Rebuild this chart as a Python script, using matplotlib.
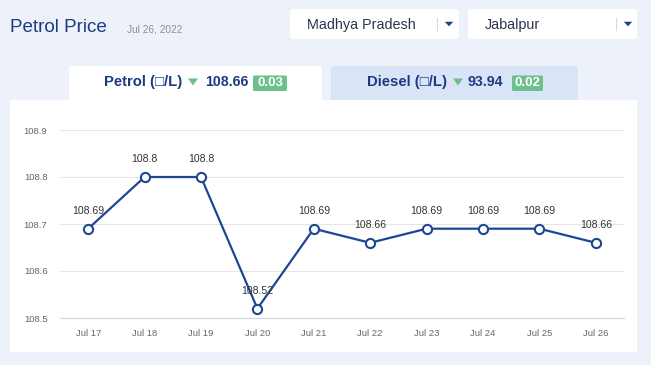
import matplotlib
matplotlib.use("Agg")
import matplotlib.pyplot as plt
from matplotlib.patches import FancyBboxPatch, Rectangle, Polygon

# ---- data ----
dates = ["Jul 17", "Jul 18", "Jul 19", "Jul 20", "Jul 21", "Jul 22", "Jul 23", "Jul 24", "Jul 25", "Jul 26"]
prices = [108.69, 108.8, 108.8, 108.52, 108.69, 108.66, 108.69, 108.69, 108.69, 108.66]
price_labels = ["108.69", "108.8", "108.8", "108.52", "108.69", "108.66", "108.69", "108.69", "108.69", "108.66"]
y_ticks = [108.5, 108.6, 108.7, 108.8, 108.9]
title = "Petrol Price"
date_text = "Jul 26, 2022"
state = "Madhya Pradesh"
city = "Jabalpur"
petrol_price, petrol_change = "108.66", "0.03"
diesel_price, diesel_change = "93.94", "0.02"

plt.rcParams['font.family'] = ['Liberation Sans', 'DejaVu Sans']

W, H = 651, 365
fig = plt.figure(figsize=(W / 100, H / 100), dpi=100)
fig.patch.set_facecolor('#ECF1FA')

bg = fig.add_axes([0, 0, 1, 1])
bg.set_xlim(0, W)
bg.set_ylim(H, 0)
bg.axis('off')

dark = '#1E3A82'
green = '#6DC08C'

def tri(cx, cy, w, h, color):
    bg.add_patch(Polygon([(cx - w / 2, cy - h / 2), (cx + w / 2, cy - h / 2), (cx, cy + h / 2)],
                         closed=True, fc=color, ec='none'))

# header
bg.text(10, 28, title, fontsize=13.6, color=dark, va='center', ha='left')
bg.text(127, 29, date_text, fontsize=7.3, color='#8A8F99', va='center', ha='left')

# dropdowns
for x0, x1, label, sep in [(290, 459, state, 437), (468, 637, city, 616)]:
    bg.add_patch(FancyBboxPatch((x0, 9), x1 - x0, 30, boxstyle="round,pad=0,rounding_size=3",
                                fc='white', ec='none'))
    bg.text(x0 + 17, 25, label, fontsize=10.4, color='#2B3650', va='center', ha='left')
    bg.plot([sep, sep], [18, 30], color='#D5D8DE', lw=0.8)
    tri(sep + 12, 24, 8.5, 4.5, '#23407E')

# tabs
bg.add_patch(FancyBboxPatch((69, 66), 253, 40, boxstyle="round,pad=0,rounding_size=3",
                            fc='white', ec='none'))
bg.add_patch(FancyBboxPatch((331, 66), 247, 40, boxstyle="round,pad=0,rounding_size=3",
                            fc='#DAE4F7', ec='none'))

# main panel
bg.add_patch(Rectangle((10, 100), 627, 252, fc='white', ec='none'))

def tab(xlabel, label, xtri, xval, val, xb0, xb1, change):
    bg.text(xlabel, 82, label, fontsize=10.7, fontweight='bold', color=dark, va='center', ha='left')
    tri(xtri, 82, 10, 7, green)
    bg.text(xval, 82, val, fontsize=10.2, fontweight='bold', color=dark, va='center', ha='left')
    bg.add_patch(FancyBboxPatch((xb0, 75.5), xb1 - xb0, 15.5, boxstyle="round,pad=0,rounding_size=1.5",
                                fc=green, ec='none'))
    bg.text((xb0 + xb1) / 2, 83, change, fontsize=9.5, fontweight='bold', color='white',
            va='center', ha='center')

tab(104, "Petrol (\u25A1/L)", 193, 205, petrol_price, 253, 287, petrol_change)
tab(367, "Diesel (\u25A1/L)", 458, 468, diesel_price, 512, 543, diesel_change)

# chart
ax = fig.add_axes([60 / W, 1 - 318 / H, 564 / W, 188 / H])
ax.set_facecolor('none')
x = list(range(len(dates)))
ax.plot(x, prices, color='#1D4694', lw=1.6, marker='o', markersize=6.6,
        markerfacecolor='white', markeredgecolor='#1D4694', markeredgewidth=1.5, zorder=3,
        clip_on=False)
for xi, yi, lab in zip(x, prices, price_labels):
    ax.annotate(lab, (xi, yi), xytext=(0, 13), textcoords='offset points', ha='center',
                va='center', fontsize=7.6, color='#333333', zorder=4)

ax.set_xlim(-0.5, len(dates) - 0.5)
ax.set_ylim(108.5, 108.9)
ax.set_yticks(y_ticks)
ax.set_yticklabels([f"{v:.1f}" for v in y_ticks])
ax.set_xticks(x)
ax.set_xticklabels(dates)
ax.grid(axis='y', color='#E6E6E6', lw=0.8)
ax.set_axisbelow(True)
for s in ['top', 'right', 'left']:
    ax.spines[s].set_visible(False)
ax.spines['bottom'].set_color('#CCD6EB')
ax.spines['bottom'].set_linewidth(0.8)
ax.tick_params(axis='both', length=0, labelsize=6.8, colors='#666666')
ax.tick_params(axis='y', pad=9)
ax.tick_params(axis='x', pad=8)

fig.savefig('out.png', dpi=100, facecolor=fig.get_facecolor())
